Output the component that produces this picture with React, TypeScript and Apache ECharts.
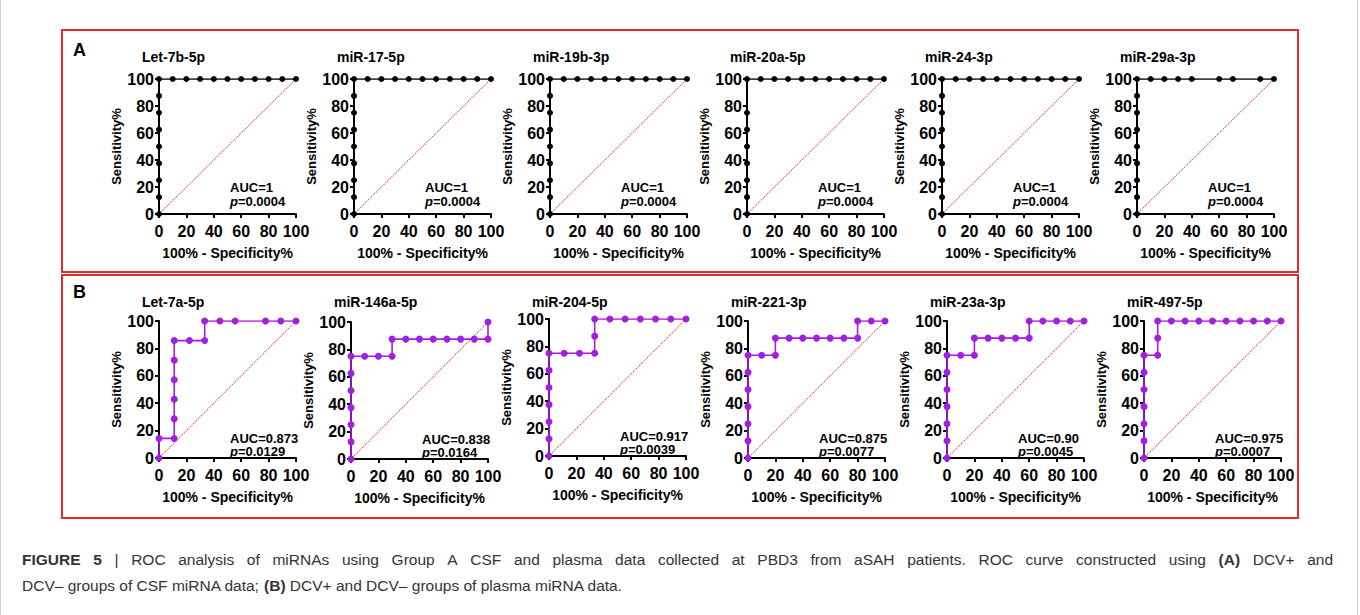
import React, { useEffect, useRef } from "react";
import * as echarts from "echarts";

const FONT = '"Liberation Sans", Arial, Helvetica, sans-serif';

// ---------- DATA ----------
const topTitles = ["Let-7b-5p", "miR-17-5p", "miR-19b-3p", "miR-20a-5p", "miR-24-3p", "miR-29a-3p"];
const topAUC = ["AUC=1", "AUC=1", "AUC=1", "AUC=1", "AUC=1", "AUC=1"];
const topP = ["0.0004", "0.0004", "0.0004", "0.0004", "0.0004", "0.0004"];

const let7b5p = [[0, 0], [0, 12.5], [0, 25], [0, 37.5], [0, 50], [0, 62.5], [0, 75], [0, 87.5], [0, 100], [10, 100], [20, 100], [30, 100], [40, 100], [50, 100], [60, 100], [70, 100], [80, 100], [90, 100], [100, 100]];
const mir17_5p = [[0, 0], [0, 12.5], [0, 25], [0, 37.5], [0, 50], [0, 62.5], [0, 75], [0, 87.5], [0, 100], [10, 100], [20, 100], [30, 100], [40, 100], [50, 100], [60, 100], [70, 100], [80, 100], [90, 100], [100, 100]];
const mir19b_3p = [[0, 0], [0, 12.5], [0, 25], [0, 37.5], [0, 50], [0, 62.5], [0, 75], [0, 87.5], [0, 100], [10, 100], [20, 100], [30, 100], [40, 100], [50, 100], [60, 100], [70, 100], [80, 100], [90, 100], [100, 100]];
const mir20a_5p = [[0, 0], [0, 12.5], [0, 25], [0, 37.5], [0, 50], [0, 62.5], [0, 75], [0, 100], [10, 100], [20, 100], [30, 100], [40, 100], [50, 100], [60, 100], [70, 100], [80, 100], [90, 100], [100, 100]];
const mir24_3p = [[0, 0], [0, 12.5], [0, 25], [0, 37.5], [0, 50], [0, 62.5], [0, 75], [0, 87.5], [0, 100], [10, 100], [20, 100], [30, 100], [40, 100], [50, 100], [60, 100], [70, 100], [80, 100], [90, 100], [100, 100]];
const mir29a_3p = [[0, 0], [0, 12.5], [0, 25], [0, 37.5], [0, 50], [0, 62.5], [0, 75], [0, 87.5], [0, 100], [10, 100], [20, 100], [30, 100], [40, 100], [60, 100], [70, 100], [90, 100], [100, 100]];

const bottomTitles = ["Let-7a-5p", "miR-146a-5p", "miR-204-5p", "miR-221-3p", "miR-23a-3p", "miR-497-5p"];
const bottomAUC = ["AUC=0.873", "AUC=0.838", "AUC=0.917", "AUC=0.875", "AUC=0.90", "AUC=0.975"];
const bottomP = ["0.0129", "0.0164", "0.0039", "0.0077", "0.0045", "0.0007"];

const let7a5p = [[0, 0], [0, 14.29], [11.11, 14.29], [11.11, 28.57], [11.11, 42.86], [11.11, 57.14], [11.11, 71.43], [11.11, 85.71], [22.22, 85.71], [33.33, 85.71], [33.33, 100], [44.44, 100], [55.56, 100], [77.78, 100], [88.89, 100], [100, 100]];
const mir146a_5p = [[0, 0], [0, 12.5], [0, 25], [0, 37.5], [0, 50], [0, 62.5], [0, 75], [10, 75], [20, 75], [30, 75], [30, 87.5], [40, 87.5], [50, 87.5], [60, 87.5], [70, 87.5], [80, 87.5], [90, 87.5], [100, 87.5], [100, 100]];
const mir204_5p = [[0, 0], [0, 12.5], [0, 25], [0, 37.5], [0, 50], [0, 62.5], [0, 75], [11.11, 75], [22.22, 75], [33.33, 75], [33.33, 87.5], [33.33, 100], [44.44, 100], [55.56, 100], [66.67, 100], [77.78, 100], [88.89, 100], [100, 100]];
const mir221_3p = [[0, 0], [0, 12.5], [0, 25], [0, 37.5], [0, 50], [0, 62.5], [0, 75], [10, 75], [20, 75], [20, 87.5], [30, 87.5], [40, 87.5], [50, 87.5], [60, 87.5], [70, 87.5], [80, 87.5], [80, 100], [90, 100], [100, 100]];
const mir23a_3p = [[0, 0], [0, 12.5], [0, 25], [0, 37.5], [0, 50], [0, 62.5], [0, 75], [10, 75], [20, 75], [20, 87.5], [30, 87.5], [40, 87.5], [50, 87.5], [60, 87.5], [60, 100], [70, 100], [80, 100], [90, 100], [100, 100]];
const mir497_5p = [[0, 0], [0, 12.5], [0, 25], [0, 37.5], [0, 50], [0, 62.5], [0, 75], [10, 75], [10, 87.5], [10, 100], [20, 100], [30, 100], [40, 100], [50, 100], [60, 100], [70, 100], [80, 100], [90, 100], [100, 100]];

const chanceLine = [[0, 0], [100, 100]];
const axisTicks = { min: 0, max: 100, interval: 20 };

const topSeries = [let7b5p, mir17_5p, mir19b_3p, mir20a_5p, mir24_3p, mir29a_3p];
const bottomSeries = [let7a5p, mir146a_5p, mir204_5p, mir221_3p, mir23a_3p, mir497_5p];

// caption words: [text, bold]
const captionLine1: [string, boolean][] = [
  ["FIGURE", true], ["5", true], ["|", false], ["ROC", false], ["analysis", false], ["of", false], ["miRNAs", false],
  ["using", false], ["Group", false], ["A", false], ["CSF", false], ["and", false], ["plasma", false], ["data", false],
  ["collected", false], ["at", false], ["PBD3", false], ["from", false], ["aSAH", false], ["patients.", false],
  ["ROC", false], ["curve", false], ["constructed", false], ["using", false], ["(A)", true], ["DCV+", false], ["and", false],
];
const captionLine2 = "DCV\u2013 groups of CSF miRNA data; {b|(B)} DCV+ and DCV\u2013 groups of plasma miRNA data.";

// ---------- LAYOUT ----------
const topLefts = [159, 354, 550, 747, 942, 1137];
const bottomLefts = [159, 351, 549, 748, 947, 1144];
const topTops = [79, 79, 79, 79, 79, 79];
const bottomTops = [321, 322, 319, 321, 321, 321];
const PW = 137;
const PH_TOP = 135;
const PH_BOT = 137;

const BLACK = "#000";
const PURPLE = "#a21fe0";
const RED = "#e32b2b";
const DIAG = "#e8474c";
const CAP_FONT_SIZE = 15.5;
const CAP_LEFT = 22;
const CAP_RIGHT = 1333;

export default function App() {
  const ref = useRef<HTMLDivElement>(null);

  useEffect(() => {
    document.body.style.margin = "0";
    const chart = echarts.init(ref.current as HTMLDivElement, null, { renderer: "svg" });

    const grids: any[] = [];
    const xAxes: any[] = [];
    const yAxes: any[] = [];
    const series: any[] = [];
    const graphics: any[] = [];

    const panels: any[] = [];
    for (let i = 0; i < 6; i++) {
      panels.push({ left: topLefts[i], top: topTops[i], h: PH_TOP, data: topSeries[i], title: topTitles[i], auc: topAUC[i], p: topP[i], color: BLACK, sym: 6, row: 0 });
    }
    for (let i = 0; i < 6; i++) {
      panels.push({ left: bottomLefts[i], top: bottomTops[i], h: PH_BOT, data: bottomSeries[i], title: bottomTitles[i], auc: bottomAUC[i], p: bottomP[i], color: PURPLE, sym: 7, row: 1 });
    }

    panels.forEach((pn, i) => {
      grids.push({ left: pn.left, top: pn.top, width: PW, height: pn.h, containLabel: false });
      const axisCommon = {
        gridIndex: i,
        type: "value",
        ...axisTicks,
        axisLine: { show: true, onZero: false, lineStyle: { color: BLACK, width: 2 } },
        axisTick: { show: true, length: 4, lineStyle: { color: BLACK, width: 2 } },
        splitLine: { show: false },
        nameLocation: "middle",
      };
      xAxes.push({
        ...axisCommon,
        axisLabel: { fontSize: 16, fontWeight: "bold", color: BLACK, fontFamily: FONT, margin: 9, hideOverlap: false },
        name: "100% - Specificity%",
        nameGap: 32,
        nameTextStyle: { fontSize: 14, fontWeight: "bold", color: BLACK, fontFamily: FONT },
      });
      yAxes.push({
        ...axisCommon,
        axisLabel: { fontSize: 16, fontWeight: "bold", color: BLACK, fontFamily: FONT, margin: 5, hideOverlap: false },
        name: "Sensitivity%",
        nameGap: 26,
        nameTextStyle: { fontSize: 13, fontWeight: "bold", color: BLACK, fontFamily: FONT },
      });
      series.push({
        type: "line",
        name: "chance-" + i,
        xAxisIndex: i,
        yAxisIndex: i,
        data: chanceLine,
        symbol: "none",
        silent: true,
        color: DIAG,
        z: 2,
        lineStyle: { color: DIAG, width: 1.1, type: "dotted", opacity: 1 },
        itemStyle: { color: DIAG },
        emphasis: { disabled: true },
      });
      series.push({
        type: "line",
        name: "roc-" + i,
        xAxisIndex: i,
        yAxisIndex: i,
        data: pn.data,
        symbol: "circle",
        symbolSize: pn.sym,
        color: pn.color,
        z: 3,
        lineStyle: { color: pn.color, width: 1.6 },
        itemStyle: { color: pn.color, borderWidth: 0 },
        emphasis: { disabled: true },
      });

      const plotBottom = pn.top + pn.h;
      graphics.push({
        type: "text",
        x: pn.left - 17,
        y: pn.row === 0 ? 57 : 302,
        style: {
          text: pn.title,
          fill: BLACK,
          fontSize: 14,
          fontWeight: "bold",
          fontFamily: FONT,
          textAlign: "left",
          textVerticalAlign: "middle",
          verticalAlign: "middle",
        },
      });
      graphics.push({
        type: "text",
        x: pn.left + 71,
        y: plotBottom - (pn.row === 0 ? 27 : 20),
        style: {
          text: pn.auc,
          fill: BLACK,
          fontSize: 13,
          fontWeight: "bold",
          fontFamily: FONT,
          textAlign: "left",
          textVerticalAlign: "middle",
          verticalAlign: "middle",
        },
      });
      graphics.push({
        type: "text",
        x: pn.left + 71,
        y: plotBottom - (pn.row === 0 ? 13 : 7),
        style: {
          text: "{i|p}{n|=" + pn.p + "}",
          fill: BLACK,
          fontSize: 13,
          fontWeight: "bold",
          fontFamily: FONT,
          textAlign: "left",
          textVerticalAlign: "middle",
          verticalAlign: "middle",
          rich: {
            i: { fontSize: 13, fontWeight: "bold", fontStyle: "italic", fontFamily: FONT, fill: BLACK },
            n: { fontSize: 13, fontWeight: "bold", fontFamily: FONT, fill: BLACK },
          },
        },
      });
    });

    // Panel frames and letters
    graphics.push({ type: "rect", shape: { x: 62, y: 30, width: 1236, height: 242 }, style: { fill: "none", stroke: RED, lineWidth: 2 } });
    graphics.push({ type: "rect", shape: { x: 62, y: 275, width: 1236, height: 243 }, style: { fill: "none", stroke: RED, lineWidth: 2 } });
    graphics.push({ type: "text", x: 73, y: 50, style: { text: "A", fill: BLACK, fontSize: 18, fontWeight: "bold", fontFamily: FONT, textVerticalAlign: "middle", verticalAlign: "middle" } });
    graphics.push({ type: "text", x: 73, y: 292, style: { text: "B", fill: BLACK, fontSize: 18, fontWeight: "bold", fontFamily: FONT, textVerticalAlign: "middle", verticalAlign: "middle" } });

    // Outer page edges
    graphics.push({ type: "line", shape: { x1: 0.5, y1: 0, x2: 0.5, y2: 615 }, style: { stroke: "#cfcfcf", lineWidth: 1 } });
    graphics.push({ type: "line", shape: { x1: 1357.5, y1: 0, x2: 1357.5, y2: 615 }, style: { stroke: "#cfcfcf", lineWidth: 1 } });

    // Caption line 1 (justified)
    const canvas = document.createElement("canvas");
    const ctx = canvas.getContext("2d") as CanvasRenderingContext2D;
    const widths = captionLine1.map(([w, b]) => {
      ctx.font = (b ? "bold " : "") + CAP_FONT_SIZE + "px " + FONT;
      return ctx.measureText(w).width;
    });
    const total = widths.reduce((a, b) => a + b, 0);
    const gap = (CAP_RIGHT - CAP_LEFT - total) / (captionLine1.length - 1);
    let cx = CAP_LEFT;
    captionLine1.forEach(([w, b], k) => {
      graphics.push({
        type: "text",
        x: cx,
        y: 559,
        style: { text: w, fill: "#333", fontSize: CAP_FONT_SIZE, fontWeight: b ? "bold" : "normal", fontFamily: FONT, textVerticalAlign: "middle", verticalAlign: "middle" },
      });
      cx += widths[k] + gap;
    });

    const capRich = {
      b: { fontWeight: "bold", fontSize: CAP_FONT_SIZE, fontFamily: FONT, fill: "#333" },
    };
    graphics.push({
      type: "text",
      x: CAP_LEFT,
      y: 585,
      style: { text: captionLine2, fill: "#333", fontSize: CAP_FONT_SIZE, fontFamily: FONT, textVerticalAlign: "middle", verticalAlign: "middle", rich: capRich },
    });

    chart.setOption({
      animation: false,
      backgroundColor: "#fff",
      grid: grids,
      xAxis: xAxes,
      yAxis: yAxes,
      series,
      graphic: graphics,
    });

    return () => chart.dispose();
  }, []);

  return <div ref={ref} style={{ width: 1360, height: 615 }} />;
}
